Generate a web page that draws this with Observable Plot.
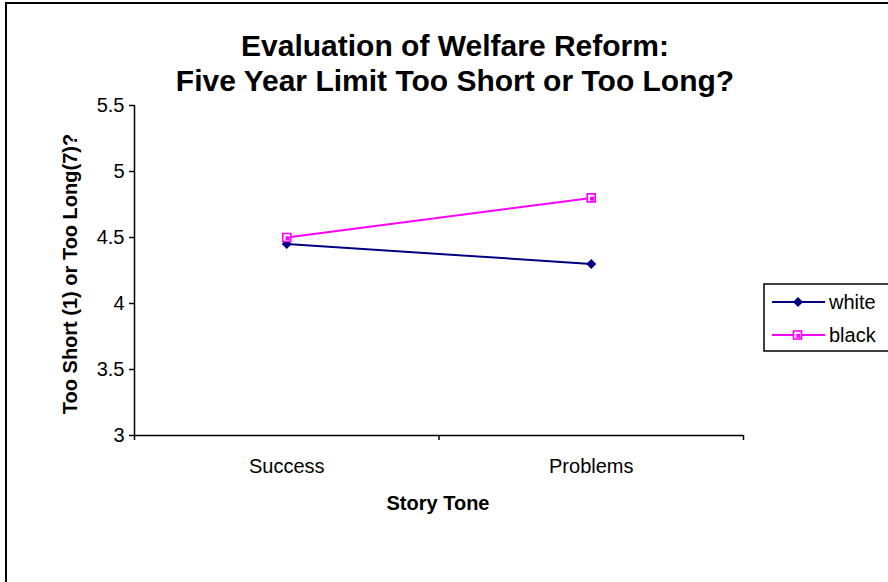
<!DOCTYPE html>
<html><head><meta charset="utf-8">
<script src="https://cdn.jsdelivr.net/npm/d3@7"></script>
<script src="https://cdn.jsdelivr.net/npm/@observablehq/plot@0.6"></script>
<style>body{margin:0;background:#fff} svg{display:block}</style>
</head><body><div id="chart"></div>
<script>
const categories = ["Success", "Problems"];
const seriesNames = ["white", "black"];
const whiteValues = [4.45, 4.3];
const blackValues = [4.5, 4.8];
const yTicks = [3, 3.5, 4, 4.5, 5, 5.5];
const titleLines = ["Evaluation of Welfare Reform:", "Five Year Limit Too Short or Too Long?"];
const yLabel = "Too Short (1) or Too Long(7)?";
const xLabel = "Story Tone";
const seriesColors = ["#000080", "#FF00FF"];

const seriesValues = [whiteValues, blackValues];
const data = [];
seriesNames.forEach((s, k) => {
  categories.forEach((c, i) => data.push({series: s, pos: i + 0.5, cat: c, value: seriesValues[k][i]}));
});
const color = s => seriesColors[seriesNames.indexOf(s)];

const diamond = {draw(ctx, size) {const r = Math.sqrt(size / 2); ctx.moveTo(0, -r); ctx.lineTo(r, 0); ctx.lineTo(0, r); ctx.lineTo(-r, 0); ctx.closePath();}};
const square = {draw(ctx, size) {const h = Math.sqrt(size) / 2; ctx.rect(-h, -h, 2 * h, 2 * h);}};
const rFor = size => Math.sqrt(size / Math.PI);

const font = "Liberation Sans, Arial, Helvetica, sans-serif";

const plot = Plot.plot({
  width: 888, height: 582,
  marginTop: 105, marginBottom: 147, marginLeft: 134, marginRight: 145,
  style: {fontFamily: font, fontSize: "20px", color: "#000", background: "#fff", overflow: "visible"},
  x: {domain: [0, 2], axis: null},
  y: {domain: [3, 5.5], axis: null},
  marks: [
    Plot.axisY({ticks: yTicks, tickSize: 5, tickPadding: 5, tickFormat: d => String(d), label: null, fontSize: 20, strokeWidth: 1.5}),
    Plot.axisX({ticks: [0, 1, 2], tickSize: 5, tickFormat: () => "", label: null, strokeWidth: 1.5}),
    Plot.axisX({ticks: [0.5, 1.5], tickSize: 0, tickPadding: 23, tickFormat: d => categories[Math.floor(d)], label: null, fontSize: 20}),
    Plot.ruleX([0], {stroke: "#000", strokeWidth: 1.5}),
    Plot.ruleY([3], {stroke: "#000", strokeWidth: 1.5}),
    Plot.line(data, {x: "pos", y: "value", z: "series", stroke: d => color(d.series), strokeWidth: 2}),
    Plot.dot(data.filter(d => d.series === "white"), {x: "pos", y: "value", symbol: diamond, r: rFor(50), fill: color("white"), stroke: "none"}),
    Plot.dot(data.filter(d => d.series === "black"), {x: "pos", y: "value", symbol: square, r: rFor(64), fill: "#fff", stroke: color("black"), strokeWidth: 1.6}),
    Plot.dot(data.filter(d => d.series === "black"), {x: "pos", y: "value", symbol: square, r: rFor(16), dx: 0.8, dy: 0.8, fill: color("black"), stroke: "none"})
  ]
});

const svg = d3.select(plot);
// outer frame
svg.append("rect").attr("x", 6).attr("y", 3).attr("width", 900).attr("height", 600)
  .attr("fill", "none").attr("stroke", "#000").attr("stroke-width", 2);
// titles
const tg = svg.append("g").attr("font-family", font).attr("font-weight", "bold").attr("font-size", 30).attr("text-anchor", "middle");
titleLines.forEach((t, i) => tg.append("text").attr("x", 455).attr("y", 56 + i * 35).text(t));
// axis labels
svg.append("text").attr("font-family", font).attr("font-weight", "bold").attr("font-size", 20)
  .attr("text-anchor", "middle").attr("transform", "translate(77,274) rotate(-90)").text(yLabel);
svg.append("text").attr("font-family", font).attr("font-weight", "bold").attr("font-size", 20)
  .attr("text-anchor", "middle").attr("x", 438).attr("y", 510).text(xLabel);
// legend
const lg = svg.append("g");
lg.append("rect").attr("x", 764).attr("y", 284).attr("width", 140).attr("height", 67)
  .attr("fill", "#fff").attr("stroke", "#000").attr("stroke-width", 1.5);
seriesNames.forEach((s, i) => {
  const y = 302 + i * 33;
  lg.append("line").attr("x1", 772).attr("x2", 825).attr("y1", y).attr("y2", y).attr("stroke", color(s)).attr("stroke-width", 2);
  if (i === 0) {
    lg.append("path").attr("d", `M798,${y - 5}L803,${y}L798,${y + 5}L793,${y}Z`).attr("fill", color(s));
  } else {
    lg.append("rect").attr("x", 793.5).attr("y", y - 4).attr("width", 8).attr("height", 8).attr("fill", "#fff").attr("stroke", color(s)).attr("stroke-width", 1.6);
    lg.append("rect").attr("x", 796.3).attr("y", y - 1.2).attr("width", 4).attr("height", 4).attr("fill", color(s));
  }
  lg.append("text").attr("x", 829).attr("y", y + 7).attr("text-anchor", "start").attr("font-family", font).attr("font-size", 20).text(s);
});

document.getElementById("chart").appendChild(plot);
</script>
</body></html>
